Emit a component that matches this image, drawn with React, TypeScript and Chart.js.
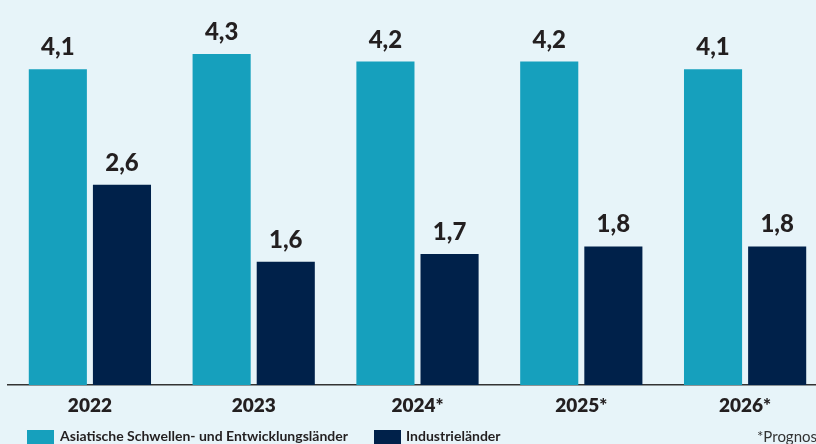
import React, { useEffect, useRef } from "react";
import { Chart, registerables } from "chart.js";

Chart.register(...registerables);

const categories = ["2022", "2023", "2024*", "2025*", "2026*"];
const asiaValues = [4.1, 4.3, 4.2, 4.2, 4.1];
const industryValues = [2.6, 1.6, 1.7, 1.8, 1.8];
const seriesNames = ["Asiatische Schwellen- und Entwicklungsländer", "Industrieländer"];
const footnote = "*Prognose";

const TEAL = "#16a0bd";
const NAVY = "#00214a";
const BG = "#e7f4f9";
const TEXT = "#231f20";
const FONT = "Lato, 'Open Sans', sans-serif";

const valueLabels = {
  id: "valueLabels",
  afterDatasetsDraw(chart: any) {
    const ctx = chart.ctx;
    ctx.save();
    ctx.font = `900 24px ${FONT}`;
    ctx.fillStyle = TEXT;
    ctx.textAlign = "center";
    ctx.textBaseline = "alphabetic";
    chart.data.datasets.forEach((ds: any, i: number) => {
      const meta = chart.getDatasetMeta(i);
      meta.data.forEach((bar: any, j: number) => {
        const v = ds.data[j] as number;
        ctx.fillText(v.toFixed(1).replace(".", ","), bar.x, bar.y - 14);
      });
    });
    ctx.restore();
  },
};

export default function App() {
  const ref = useRef<HTMLCanvasElement>(null);
  useEffect(() => {
    if (!ref.current) return;
    const chart = new Chart(ref.current, {
      type: "bar",
      data: {
        labels: categories,
        datasets: [
          { label: seriesNames[0], data: asiaValues, backgroundColor: TEAL },
          { label: seriesNames[1], data: industryValues, backgroundColor: NAVY },
        ],
      },
      options: {
        responsive: false,
        animation: false,
        devicePixelRatio: 1,
        layout: { padding: { left: 8, right: 13, top: 0, bottom: 0 } },
        datasets: { bar: { categoryPercentage: 0.783, barPercentage: 0.906 } },
        plugins: { legend: { display: false }, tooltip: { enabled: false } },
        scales: {
          x: {
            grid: { display: false },
            border: { display: true, color: "#333333", width: 1.5 },
            ticks: {
              color: TEXT,
              font: { family: FONT, size: 19, weight: "800" },
              padding: 1,
            },
            afterFit: (s: any) => {
              s.height = 59;
            },
          },
          y: {
            display: false,
            min: 0,
            max: 385 / 77,
          },
        },
      },
      plugins: [valueLabels],
    });
    return () => chart.destroy();
  }, []);

  const legendText: React.CSSProperties = {
    position: "absolute",
    top: 427,
    fontFamily: FONT,
    fontWeight: 700,
    fontSize: 14,
    color: TEXT,
    whiteSpace: "nowrap",
    lineHeight: "18px",
  };
  const box = (left: number, color: string): React.CSSProperties => ({
    position: "absolute",
    left,
    top: 430,
    width: 27,
    height: 14,
    background: color,
  });

  return (
    <div
      style={{
        position: "fixed",
        left: 0,
        top: 0,
        width: 816,
        height: 444,
        overflow: "hidden",
        background: BG,
      }}
    >
      <canvas ref={ref} width={840} height={444} style={{ position: "absolute", left: 0, top: 0 }} />
      <div style={box(27, TEAL)} />
      <div style={{ ...legendText, left: 60 }}>{seriesNames[0]}</div>
      <div style={box(374, NAVY)} />
      <div style={{ ...legendText, left: 406 }}>{seriesNames[1]}</div>
      <div style={{ ...legendText, left: 757, fontWeight: 400, fontSize: 15, color: "#333" }}>{footnote}</div>
    </div>
  );
}
